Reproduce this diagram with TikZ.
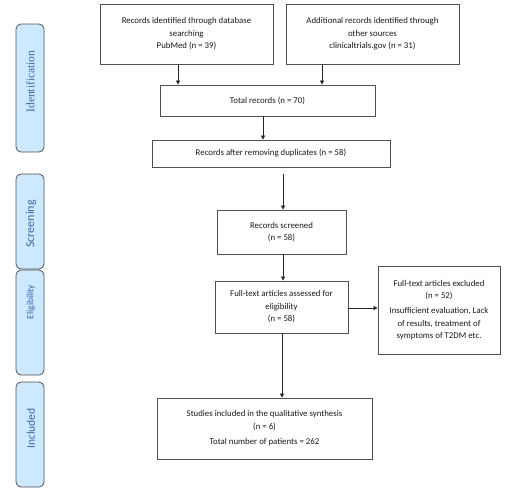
\documentclass[tikz,border=0pt]{standalone}
\usepackage{fontspec}
\setmainfont{Carlito}
\newfontfamily\serifface{Liberation Serif}
\usetikzlibrary{arrows.meta}
\definecolor{panelfill}{HTML}{CDE9FF}
\definecolor{paneltext}{HTML}{3F63AE}
\definecolor{boxline}{HTML}{505050}
\tikzset{
  flowbox/.style={draw=boxline, line width=0.8pt, rectangle, align=center, inner sep=2pt,
    text=black!90, font=\fontsize{8.8}{12.5}\selectfont},
  panel/.style={draw=boxline, line width=0.8pt, fill=panelfill, rounded corners=5pt},
  panellabel/.style={text=paneltext, rotate=90, inner sep=0pt},
  flowarrow/.style={draw=black!85, line width=0.7pt, -{Triangle[length=4pt,width=4pt]}}
}
\begin{document}
\begin{tikzpicture}[x=1pt,y=-1pt]
\useasboundingbox (0,0) rectangle (513,488);
% side panels
\draw[panel] (16,24) rectangle (44,152);
\draw[panel] (16,174) rectangle (44,269);
\draw[panel] (16,270) rectangle (44,375);
\draw[panel] (16,382) rectangle (44,487);
\node[panellabel, font=\serifface\fontsize{11.5}{12}\selectfont] (lid) at (30.5,81.5) {Identification};
\node[panellabel, font=\fontsize{12}{12}\selectfont] (lsc) at (31,224) {Screening};
\node[panellabel, font=\fontsize{9.5}{10}\selectfont] (lel) at (31,302) {Eligibility};
\node[panellabel, font=\fontsize{11.5}{12}\selectfont] (lin) at (31,428.5) {Included};
% boxes
\node[flowbox, minimum width=173pt, minimum height=60pt] (pub) at (186.5,34)
  {Records identified through database\\searching\\PubMed (n = 39)};
\node[flowbox, minimum width=173pt, minimum height=60pt] (ct) at (372.5,34)
  {Additional records identified through\\other sources\\clinicaltrials.gov (n = 31)};
\node[flowbox, minimum width=215pt, minimum height=31pt] (tot) at (267.5,100.5)
  {Total records (n = 70)};
\node[flowbox, minimum width=238pt, minimum height=27pt] (dup) at (271,153.5)
  {Records after removing duplicates (n = 58)};
\node[flowbox, minimum width=129pt, minimum height=44pt] (scr) at (281.5,232)
  {Records screened\\(n = 58)};
\node[flowbox, minimum width=133pt, minimum height=52pt] (ft) at (281.5,307)
  {Full-text articles assessed for\\eligibility\\(n = 58)};
\node[flowbox, minimum width=122pt, minimum height=88pt] (exc) at (439,310)
  {Full-text articles excluded\\(n = 52)\\[2.5pt]Insufficient evaluation, Lack\\of results, treatment of\\symptoms of T2DM etc.};
\node[flowbox, minimum width=215pt, minimum height=61pt] (stu) at (264.5,428.5)
  {Studies included in the qualitative synthesis\\(n = 6)\\[3pt]Total number of patients = 262};
% connectors
\draw[flowarrow] (pub.south -| 178,0) -- (tot.north -| 178,0);
\draw[flowarrow] (ct.south -| 322,0) -- (tot.north -| 322,0);
\draw[flowarrow] (tot.south -| 263,0) -- (dup.north -| 263,0);
\coordinate (dupout) at (283,174);
\draw[flowarrow] (dupout) -- (scr.north -| dupout);
\draw[flowarrow] (scr.south -| 283,0) -- (ft.north -| 283,0);
\draw[flowarrow] (ft.east |- 0,308) -- (exc.west |- 0,308);
\draw[flowarrow] (ft.south -| 282,0) -- (stu.north -| 282,0);
\end{tikzpicture}
\end{document}
